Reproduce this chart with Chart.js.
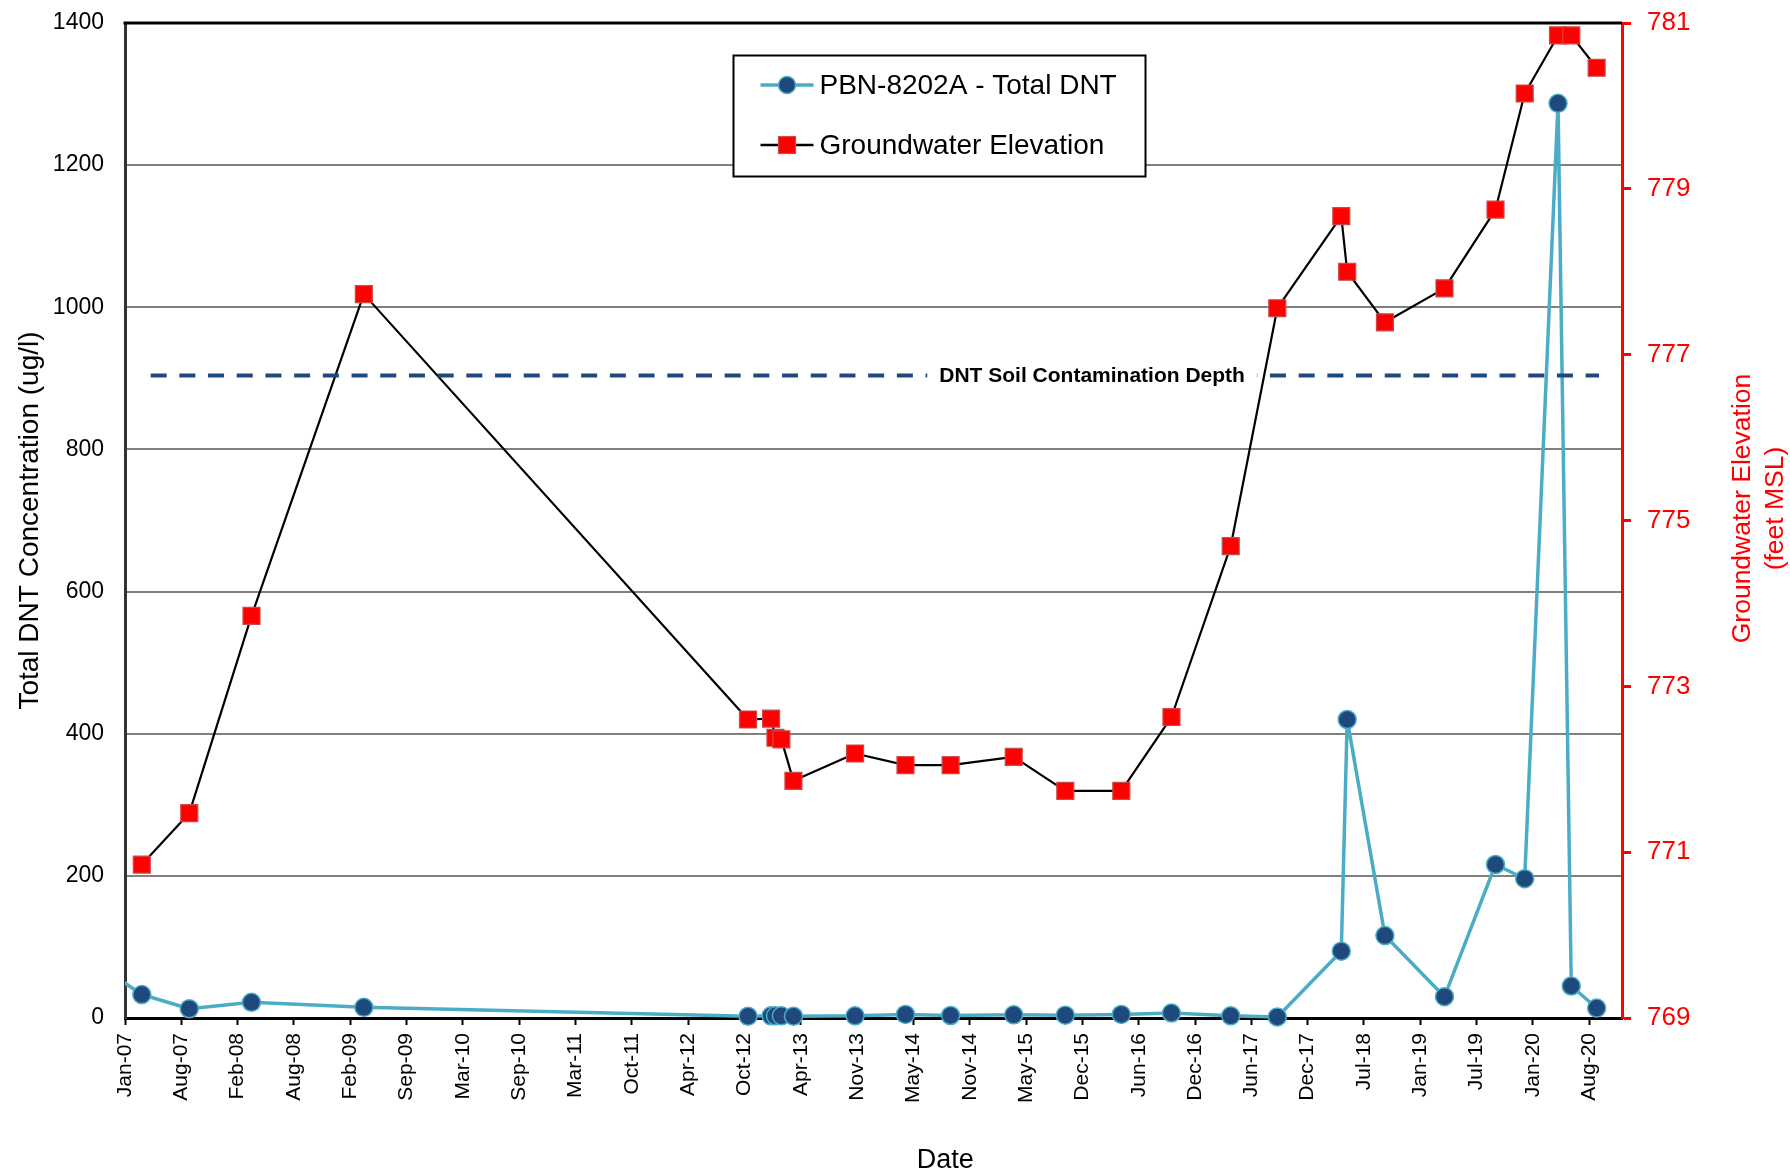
<!DOCTYPE html>
<html>
<head>
<meta charset="utf-8">
<title>PBN-8202A Total DNT and Groundwater Elevation</title>
<script src="https://cdn.jsdelivr.net/npm/chart.js@4.4.1/dist/chart.umd.min.js"></script>
<style>
  html, body { margin: 0; padding: 0; background: #ffffff; }
  #wrap { width: 1790px; height: 1173px; }
  canvas { display: block; }
</style>
</head>
<body>
<div id="wrap"><canvas id="chart" width="1790" height="1173"></canvas></div>
<script>
// ---- Data ----------------------------------------------------------------
// Sampling dates shared by both series
const sampleDates = [
  '2007-02-27', '2007-08-07', '2008-03-05', '2009-03-21',
  '2012-10-14', '2012-12-31', '2013-01-15', '2013-02-04', '2013-03-17',
  '2013-10-12', '2014-04-01', '2014-09-01', '2015-04-03', '2015-09-25',
  '2016-04-02', '2016-09-19', '2017-04-08', '2017-09-13', '2018-04-18',
  '2018-05-08', '2018-09-13', '2019-04-03', '2019-09-23', '2019-12-31',
  '2020-04-22', '2020-06-06', '2020-08-31'
];

// Total DNT (ug/l); the first sample predates the axis start
const dntDates = ['2006-10-01'].concat(sampleDates);
const dntValues = [
  75, 33, 13, 22, 15,
  2.5, 3, 3, 3, 2.5,
  3, 5, 3.5, 4.5, 4,
  5, 7, 3, 1.5, 94,
  420, 116, 30, 216, 196,
  1287, 45, 14
];

// Groundwater elevation (feet MSL)
const gwValues = [
  770.85, 771.47, 773.85, 777.73,
  772.60, 772.61, 772.38, 772.36, 771.86,
  772.19, 772.05, 772.05, 772.15, 771.74,
  771.74, 772.63, 774.69, 777.56, 778.67,
  778.00, 777.39, 777.80, 778.75, 780.15,
  780.85, 780.85, 780.46
];

// Soil contamination depth reference line (feet MSL)
const depthDates = ['2007-03-29', '2020-09-08'];
const depthLevel = 776.75;
const depthLabel = 'DNT Soil Contamination Depth';

// Date axis tick labels (one every 191 days from 1 Jan 2007)
const tickLabels = [
  'Jan-07', 'Aug-07', 'Feb-08', 'Aug-08', 'Feb-09', 'Sep-09', 'Mar-10',
  'Sep-10', 'Mar-11', 'Oct-11', 'Apr-12', 'Oct-12', 'Apr-13', 'Nov-13',
  'May-14', 'Nov-14', 'May-15', 'Dec-15', 'Jun-16', 'Dec-16', 'Jun-17',
  'Dec-17', 'Jul-18', 'Jan-19', 'Jul-19', 'Jan-20', 'Aug-20'
];
const tickStepDays = 191;
const axisEndDays = 5077;

// ---- Helpers ---------------------------------------------------------------
const DAY_MS = 86400000;
const ORIGIN = Date.parse('2007-01-01T00:00:00Z');
function toDays(s) { return (Date.parse(s + 'T00:00:00Z') - ORIGIN) / DAY_MS; }
function pairs(dates, values) { return dates.map((d, i) => ({ x: toDays(d), y: values[i] })); }
// keep tick labels from pushing the plot area inward
function noLabelPadding(scale) {
  scale.paddingTop = 0; scale.paddingBottom = 0;
  scale.paddingLeft = 0; scale.paddingRight = 0;
}

const FONT = '"Liberation Sans", Arial, Helvetica, sans-serif';
const DNT_LINE = '#4BACC6';
const DNT_FILL = '#1F497D';
const GW_FILL = '#FF0000';
const GW_EDGE = '#C84A4A';

// ---- Plugins ---------------------------------------------------------------
const decorations = {
  id: 'decorations',
  beforeDatasetsDraw(chart) {
    const { ctx, chartArea: a } = chart;
    // top frame line
    ctx.save();
    ctx.strokeStyle = '#000';
    ctx.lineWidth = 3;
    ctx.beginPath();
    ctx.moveTo(a.left - 1.5, a.top);
    ctx.lineTo(a.right, a.top);
    ctx.stroke();
    ctx.restore();
  },
  afterDatasetsDraw(chart) {
    const { ctx, chartArea: a } = chart;
    const y2 = chart.scales.y2;
    // label sitting on the contamination depth line
    const ly = y2.getPixelForValue(depthLevel);
    ctx.save();
    ctx.font = 'bold 21px ' + FONT;
    const tw = ctx.measureText(depthLabel).width;
    const cx = a.left + 0.646 * (a.right - a.left);
    ctx.fillStyle = '#fff';
    ctx.fillRect(cx - tw / 2 - 12, ly - 12, tw + 24, 24);
    ctx.fillStyle = '#000';
    ctx.textAlign = 'center';
    ctx.textBaseline = 'middle';
    ctx.fillText(depthLabel, cx, ly + 1);
    ctx.restore();
  },
  afterDraw(chart) {
    const { ctx, chartArea: a } = chart;
    ctx.save();

    // legend box
    const bx = a.left + 608.5, by = a.top + 32.5, bw = 412, bh = 121;
    ctx.fillStyle = '#fff';
    ctx.fillRect(bx, by, bw, bh);
    ctx.strokeStyle = '#000';
    ctx.lineWidth = 2;
    ctx.strokeRect(bx, by, bw, bh);

    const sx0 = bx + 27, sx1 = bx + 80, smid = bx + 53.5;
    const r1 = by + 29.5, r2 = by + 89.5;
    // DNT sample
    ctx.strokeStyle = DNT_LINE;
    ctx.lineWidth = 3.5;
    ctx.beginPath(); ctx.moveTo(sx0, r1); ctx.lineTo(sx1, r1); ctx.stroke();
    ctx.fillStyle = DNT_FILL;
    ctx.lineWidth = 1.5;
    ctx.beginPath(); ctx.arc(smid, r1, 8.5, 0, Math.PI * 2); ctx.fill(); ctx.stroke();
    // groundwater sample
    ctx.strokeStyle = '#000';
    ctx.lineWidth = 2.5;
    ctx.beginPath(); ctx.moveTo(sx0, r2); ctx.lineTo(sx1, r2); ctx.stroke();
    ctx.fillStyle = GW_FILL;
    ctx.strokeStyle = GW_EDGE;
    ctx.lineWidth = 1.2;
    ctx.fillRect(smid - 8.5, r2 - 8.5, 17, 17);
    ctx.strokeRect(smid - 8.5, r2 - 8.5, 17, 17);

    ctx.fillStyle = '#000';
    ctx.font = '28px ' + FONT;
    ctx.textAlign = 'left';
    ctx.textBaseline = 'middle';
    ctx.fillText('PBN-8202A - Total DNT', bx + 86, r1 + 1);
    ctx.fillText('Groundwater Elevation', bx + 86, r2 + 1);

    // axis titles
    const midY = (a.top + a.bottom) / 2;
    ctx.textAlign = 'center';
    ctx.save();
    ctx.translate(30, midY);
    ctx.rotate(-Math.PI / 2);
    ctx.fillText('Total DNT Concentration (ug/l)', 0, 0);
    ctx.restore();

    ctx.font = '27px ' + FONT;
    ctx.fillText('Date', a.left + 0.548 * (a.right - a.left), 1161);

    ctx.fillStyle = '#FF0000';
    ctx.font = '26.5px ' + FONT;
    ctx.save();
    ctx.translate(1743, midY - 12);
    ctx.rotate(-Math.PI / 2);
    ctx.fillText('Groundwater Elevation', 0, 0);
    ctx.fillText('(feet MSL)', 0, 33);
    ctx.restore();

    ctx.restore();
  }
};

// ---- Chart -----------------------------------------------------------------
const ctx = document.getElementById('chart').getContext('2d');
new Chart(ctx, {
  type: 'line',
  data: {
    datasets: [
      {
        label: depthLabel,
        data: pairs(depthDates, [depthLevel, depthLevel]),
        yAxisID: 'y2',
        borderColor: DNT_FILL,
        borderWidth: 4,
        borderDash: [16, 12.7],
        pointRadius: 0,
        order: 0
      },
      {
        label: 'Groundwater Elevation',
        data: pairs(sampleDates, gwValues),
        yAxisID: 'y2',
        borderColor: '#000',
        borderWidth: 2.2,
        borderJoinStyle: 'round',
        pointStyle: 'rect',
        pointRadius: 12,
        pointBackgroundColor: GW_FILL,
        pointBorderColor: GW_EDGE,
        pointBorderWidth: 1.2,
        order: 1,
        clip: { left: 0, top: false, right: false, bottom: false }
      },
      {
        label: 'PBN-8202A - Total DNT',
        data: pairs(dntDates, dntValues),
        yAxisID: 'y',
        borderColor: DNT_LINE,
        borderWidth: 3.5,
        borderJoinStyle: 'round',
        pointStyle: 'circle',
        pointRadius: 9,
        pointBackgroundColor: DNT_FILL,
        pointBorderColor: DNT_LINE,
        pointBorderWidth: 1.5,
        order: 2,
        clip: { left: 0, top: false, right: false, bottom: false }
      }
    ]
  },
  options: {
    responsive: false,
    animation: false,
    events: [],
    layout: { padding: { top: 23, left: 0, right: 0, bottom: 0 } },
    elements: { line: { tension: 0 } },
    plugins: {
      legend: { display: false },
      title: { display: false },
      tooltip: { enabled: false }
    },
    scales: {
      x: {
        type: 'linear',
        min: 0,
        max: axisEndDays,
        afterBuildTicks(scale) {
          scale.ticks = tickLabels.map((_, i) => ({ value: i * tickStepDays }));
        },
        afterFit(scale) { scale.height = 155; noLabelPadding(scale); },
        ticks: {
          autoSkip: false,
          maxRotation: 90,
          minRotation: 90,
          padding: 8,
          color: '#000',
          font: { family: FONT, size: 21 },
          callback: (value, index) => tickLabels[index]
        },
        grid: {
          drawOnChartArea: false,
          drawTicks: true,
          tickLength: 7,
          tickColor: '#000',
          tickWidth: 2
        },
        border: { color: '#000', width: 3 }
      },
      y: {
        position: 'left',
        min: 0,
        max: 1400,
        afterFit(scale) { scale.width = 125; noLabelPadding(scale); },
        ticks: {
          stepSize: 200,
          padding: 21,
          color: '#000',
          font: { family: FONT, size: 23 },
          callback: (value) => String(value)
        },
        grid: {
          drawTicks: false,
          lineWidth: 2,
          color: (c) => (c.tick && (c.tick.value === 0 || c.tick.value === 1400)) ? 'rgba(0,0,0,0)' : '#808080'
        },
        border: { color: '#333', width: 3 }
      },
      y2: {
        position: 'right',
        min: 769,
        max: 781,
        afterFit(scale) { scale.width = 168; noLabelPadding(scale); },
        ticks: {
          stepSize: 2,
          padding: 16,
          color: '#FF0000',
          font: { family: FONT, size: 26 },
          callback: (value) => String(value)
        },
        grid: {
          drawOnChartArea: false,
          drawTicks: true,
          tickLength: 9,
          tickColor: '#FF0000',
          tickWidth: 3
        },
        border: { color: '#FF0000', width: 3 }
      }
    }
  },
  plugins: [decorations]
});
</script>
</body>
</html>
